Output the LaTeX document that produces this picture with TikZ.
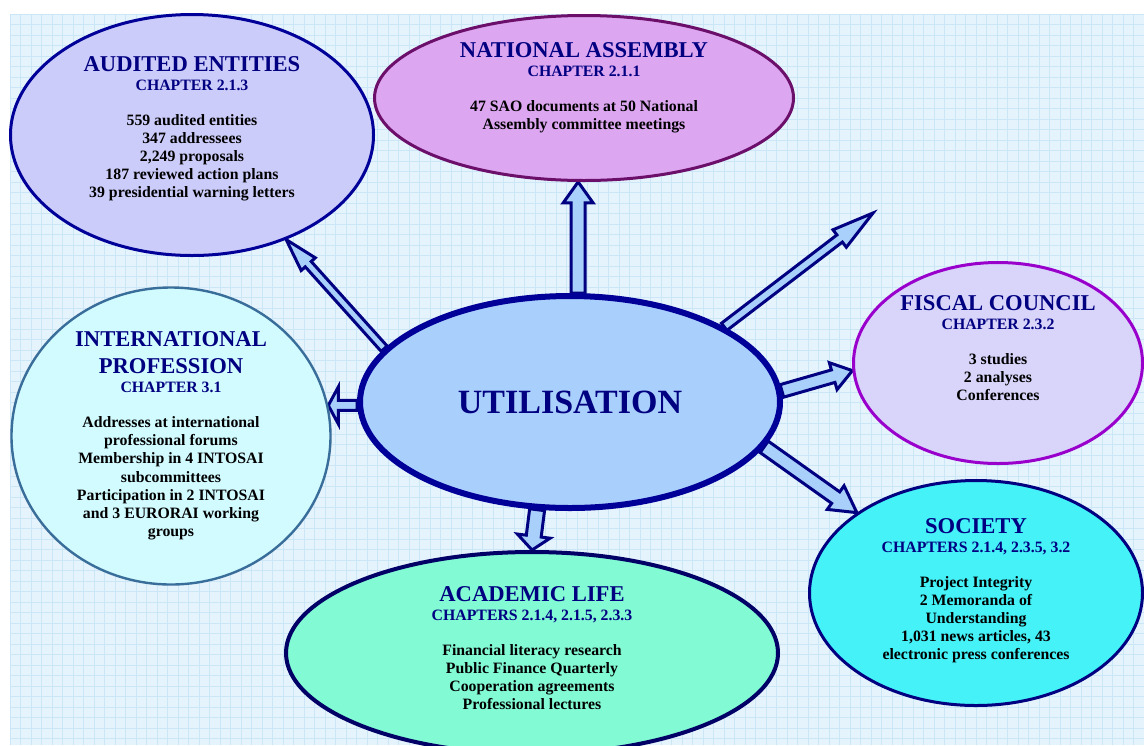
\documentclass[tikz,border=0pt]{standalone}
\usepackage{fontspec}
\setmainfont{Liberation Serif}
\usetikzlibrary{shapes.geometric,calc}

\pgfdeclarelayer{back}
\pgfdeclarelayer{links}
\pgfsetlayers{back,links,main}

\definecolor{bgblue}{HTML}{E5F3FC}
\definecolor{gridblue}{HTML}{CBE6F7}
\definecolor{titleblue}{HTML}{000080}
\definecolor{aefill}{HTML}{CCCCFA}
\definecolor{aeline}{HTML}{000099}
\definecolor{nafill}{HTML}{DCA6F0}
\definecolor{naline}{HTML}{6B0F6B}
\definecolor{fcfill}{HTML}{D8D4FA}
\definecolor{fcline}{HTML}{9900CC}
\definecolor{ipfill}{HTML}{D2FBFF}
\definecolor{ipline}{HTML}{3A6E9A}
\definecolor{utilfill}{HTML}{A9D0FC}
\definecolor{utilline}{HTML}{000099}
\definecolor{socfill}{HTML}{44F2F8}
\definecolor{socline}{HTML}{000080}
\definecolor{alfill}{HTML}{82FAD4}
\definecolor{alline}{HTML}{000066}
\definecolor{arrowfill}{HTML}{A8D0FA}
\definecolor{arrowline}{HTML}{000080}

\newcommand{\bodyfont}{\fontsize{7.9}{9.1}\selectfont\bfseries}
\newcommand{\titlefont}{\fontsize{11.3}{13}\selectfont\color{titleblue}}
\newcommand{\chapfont}{\fontsize{7.9}{9.1}\selectfont\color{titleblue}}

\tikzset{
  bubble/.style={ellipse, inner sep=0pt, align=center, font=\bodyfont, line width=1.5pt},
  gridline/.style={gridblue, line width=0.4pt},
  blockline/.style={draw=arrowline, fill=arrowfill, line width=1.5pt, line join=miter}
}

% block arrow: start, tip, half shaft, half head, head length
\newcommand{\blockarrow}[5]{%
  \coordinate (neck) at ($(#2)!#5!(#1)$);
  \draw[blockline] ($(#1)!#3!-90:(#2)$) -- ($(neck)!#3!90:(#1)$) -- ($(neck)!#4!90:(#1)$) -- (#2)
    -- ($(neck)!#4!-90:(#1)$) -- ($(neck)!#3!-90:(#1)$) -- ($(#1)!#3!90:(#2)$) -- cycle;}

\begin{document}
\begin{tikzpicture}[x=0.5pt, y=-0.5pt]
  \useasboundingbox (0,0) rectangle (1144,745);
  \clip (0,0) rectangle (1144,745);

  % background grid
  \begin{pgfonlayer}{back}
    \fill[bgblue] (10,14) rectangle (1144,745);
    \foreach \i in {0,...,107}
      \draw[gridline] ({10+\i*10.5},14) -- ({10+\i*10.5},745);
    \foreach \j in {0,...,69}
      \draw[gridline] (10,{14+\j*10.5}) -- (1144,{14+\j*10.5});
  \end{pgfonlayer}

  % centre
  \node[bubble, draw=utilline, fill=utilfill, line width=3pt, minimum width=210pt, minimum height=106pt,
        font=\fontsize{17}{20}\selectfont\bfseries\color{titleblue}] (util) at (570,402) {UTILISATION};

  % surrounding bubbles
  \node[bubble, draw=aeline, fill=aefill, minimum width=181.5pt, minimum height=120.5pt, text depth=8pt] (ae) at (192,135)
    {{\titlefont AUDITED ENTITIES}\\[0.4pt] {\chapfont CHAPTER 2.1.3}\\[8.4pt]
     559 audited entities\\ 347 addressees\\ 2,249 proposals\\ 187 reviewed action plans\\ 39 presidential warning letters};

  \node[bubble, draw=naline, fill=nafill, minimum width=209.5pt, minimum height=82.5pt, text depth=12pt] (na) at (584,98)
    {{\titlefont NATIONAL ASSEMBLY}\\[0.4pt] {\chapfont CHAPTER 2.1.1}\\[8.4pt]
     47 SAO documents at 50 National\\ Assembly committee meetings};

  \node[bubble, draw=fcline, fill=fcfill, minimum width=144.5pt, minimum height=100.5pt, text depth=15pt] (fc) at (998,363)
    {{\titlefont FISCAL COUNCIL}\\[0.4pt] {\chapfont CHAPTER 2.3.2}\\[8.4pt]
     3 studies\\ 2 analyses\\ Conferences};

  \node[bubble, draw=ipline, fill=ipfill, line width=1.2pt, minimum width=159.5pt, minimum height=148.5pt] (ip) at (171,436)
    {{\titlefont INTERNATIONAL}\\[4.2pt] {\titlefont PROFESSION}\\[0.4pt] {\chapfont CHAPTER 3.1}\\[8.4pt]
     Addresses at international\\ professional forums\\ Membership in 4 INTOSAI\\ subcommittees\\
     Participation in 2 INTOSAI\\ and 3 EURORAI working\\ groups};

  \node[bubble, draw=socline, fill=socfill, minimum width=166.5pt, minimum height=112.5pt, text depth=4pt] (soc) at (976,593)
    {{\titlefont SOCIETY}\\[0.4pt] {\chapfont CHAPTERS 2.1.4, 2.3.5, 3.2}\\[8.4pt]
     Project Integrity\\ 2 Memoranda of\\ Understanding\\ 1,031 news articles, 43\\ electronic press conferences};

  \node[bubble, draw=alline, fill=alfill, line width=2pt, minimum width=246pt, minimum height=101pt, text depth=5pt] (al) at (532,653)
    {{\titlefont ACADEMIC LIFE}\\[0.4pt] {\chapfont CHAPTERS 2.1.4, 2.1.5, 2.3.3}\\[8.4pt]
     Financial literacy research\\ Public Finance Quarterly\\ Cooperation agreements\\ Professional lectures};

  % arrows out of the centre
  \coordinate (up0) at (util.north -| na.266);
  \coordinate (left0) at (util.west |- ip.11);
  \coordinate (free) at (873,213);
  \begin{pgfonlayer}{links}
    \blockarrow{up0}{na.266}{3.5pt}{7.5pt}{10.5pt}
    \blockarrow{util.164}{ae.312}{2pt}{4.75pt}{16.5pt}
    \blockarrow{left0}{ip.11}{2.5pt}{9.25pt}{5pt}
    \blockarrow{util.253}{al.north}{3.75pt}{8.25pt}{7pt}
    \blockarrow{util.347}{soc.146}{3.5pt}{7.25pt}{13pt}
    \blockarrow{util.3}{fc.183}{3.25pt}{7pt}{10pt}
    \blockarrow{util.26}{free}{2.25pt}{5.5pt}{21pt}
  \end{pgfonlayer}
\end{tikzpicture}
\end{document}
